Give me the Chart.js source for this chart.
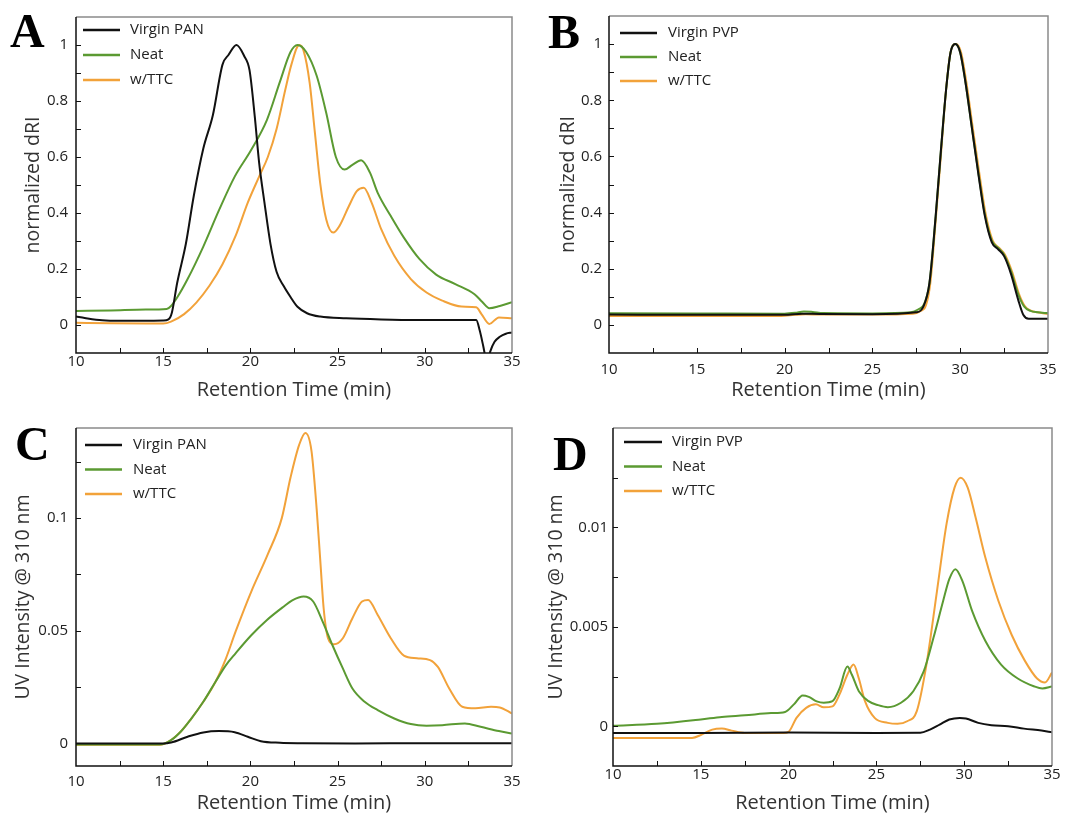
<!DOCTYPE html>
<html>
<head>
<meta charset="utf-8">
<title>GPC traces</title>
<script src="https://cdn.jsdelivr.net/npm/chart.js@4.4.1/dist/chart.umd.min.js"></script>
<style>
  body { margin: 0; background: #fff; width: 1071px; height: 815px; position: relative; overflow: hidden; }
  .panel { position: absolute; }
</style>
</head>
<body>
<div class="panel" style="left:0;top:0"><canvas id="chartA" width="535" height="405"></canvas></div>
<div class="panel" style="left:535px;top:0"><canvas id="chartB" width="536" height="405"></canvas></div>
<div class="panel" style="left:0;top:405px"><canvas id="chartC" width="535" height="410"></canvas></div>
<div class="panel" style="left:535px;top:405px"><canvas id="chartD" width="536" height="410"></canvas></div>
<script>
// names + colours
const panNames = ['Virgin PAN', 'Neat', 'w/TTC'];
const pvpNames = ['Virgin PVP', 'Neat', 'w/TTC'];
const colours = ['#111111', '#5b9a32', '#f2a23a'];

// tick labels
const xTicks = [10, 15, 20, 25, 30, 35];
const dRITicks = [0, 0.2, 0.4, 0.6, 0.8, 1];
const uvTicksC = [0, 0.05, 0.1];
const uvTicksD = [0, 0.005, 0.01];

// A - dRI, PAN
const aVirginT = [10, 10.5, 11.5, 12.5, 14, 15, 15.3, 15.5, 15.8, 16.3, 16.75, 17.3, 17.85, 18.4, 18.75, 19.2, 19.65, 19.95, 20.25, 20.5, 20.8, 21.15, 21.5, 21.9, 22.3, 22.7, 23.25, 24, 25.5, 27.5, 29.5, 31, 32.95, 33.15, 33.35, 33.5, 33.6, 33.75, 34, 34.3, 34.65, 35];
const aVirginY = [0.03, 0.025, 0.017, 0.015, 0.015, 0.016, 0.02, 0.045, 0.15, 0.29, 0.46, 0.63, 0.75, 0.93, 0.965, 1.0, 0.96, 0.91, 0.745, 0.58, 0.44, 0.29, 0.19, 0.14, 0.1, 0.065, 0.042, 0.03, 0.024, 0.02, 0.018, 0.018, 0.018, -0.02, -0.075, -0.12, -0.13, -0.095, -0.06, -0.042, -0.031, -0.027];
const aNeatT = [10, 12, 14, 15.2, 15.45, 15.8, 16.4, 17.3, 18.2, 19.1, 20.05, 20.95, 21.7, 22.3, 22.7, 23.2, 23.8, 24.35, 24.9, 25.4, 25.85, 26.35, 26.85, 27.3, 28.05, 28.8, 29.7, 30.65, 31.75, 32.85, 33.3, 33.7, 34.3, 35];
const aNeatY = [0.05, 0.052, 0.055, 0.057, 0.068, 0.098, 0.164, 0.28, 0.41, 0.53, 0.626, 0.733, 0.87, 0.975, 1.0, 0.975, 0.89, 0.757, 0.6, 0.555, 0.572, 0.588, 0.545, 0.472, 0.389, 0.312, 0.235, 0.18, 0.146, 0.11, 0.082, 0.06, 0.068, 0.081];
const aTtcT = [10, 12, 14, 15, 15.45, 16.2, 16.9, 17.65, 18.4, 19.15, 19.85, 20.5, 21.0, 21.5, 22.0, 22.35, 22.8, 23.05, 23.4, 23.7, 24.0, 24.35, 24.75, 25.1, 25.65, 26.1, 26.5, 26.95, 27.5, 28.25, 29.2, 30.1, 31, 32.1, 32.95, 33.25, 33.7, 34.25, 35];
const aTtcY = [0.008, 0.006, 0.005, 0.005, 0.012, 0.039, 0.08, 0.14, 0.217, 0.318, 0.437, 0.53, 0.6, 0.7, 0.84, 0.93, 1.0, 0.98, 0.864, 0.686, 0.508, 0.377, 0.33, 0.353, 0.425, 0.478, 0.49, 0.437, 0.342, 0.247, 0.164, 0.116, 0.087, 0.066, 0.063, 0.039, 0.004, 0.027, 0.024];

// B - dRI, PVP
const bVirginT = [10, 15, 20, 21, 22, 25, 27.5, 27.9, 28.25, 28.6, 28.9, 29.2, 29.45, 29.72, 30.0, 30.3, 30.65, 31.05, 31.4, 31.8, 32.15, 32.5, 32.9, 33.3, 33.6, 33.9, 35];
const bVirginY = [0.037, 0.036, 0.036, 0.04, 0.039, 0.038, 0.045, 0.065, 0.15, 0.385, 0.62, 0.84, 0.97, 1.0, 0.97, 0.864, 0.709, 0.531, 0.389, 0.294, 0.27, 0.245, 0.18, 0.09, 0.035, 0.022, 0.022];
const bNeatT = [10, 15, 20, 20.6, 21.1, 21.6, 22.2, 25, 27.2, 27.6, 27.95, 28.25, 28.6, 28.9, 29.2, 29.45, 29.72, 30.0, 30.3, 30.65, 31.05, 31.4, 31.8, 32.15, 32.5, 32.9, 33.3, 33.65, 34.0, 34.4, 35];
const bNeatY = [0.042, 0.041, 0.04, 0.043, 0.048, 0.046, 0.042, 0.041, 0.045, 0.055, 0.075, 0.15, 0.385, 0.62, 0.84, 0.97, 1.0, 0.97, 0.864, 0.709, 0.535, 0.395, 0.3, 0.275, 0.25, 0.19, 0.11, 0.065, 0.05, 0.045, 0.042];
const bTtcT = [10, 15, 19.8, 20.6, 21.2, 22, 25, 27.3, 27.75, 28.05, 28.3, 28.62, 28.92, 29.2, 29.45, 29.75, 30.05, 30.35, 30.7, 31.1, 31.45, 31.85, 32.2, 32.55, 32.95, 33.35, 33.7, 34.05, 34.4, 35];
const bTtcY = [0.032, 0.032, 0.032, 0.036, 0.038, 0.037, 0.037, 0.04, 0.05, 0.07, 0.15, 0.385, 0.62, 0.84, 0.97, 1.0, 0.97, 0.864, 0.709, 0.535, 0.395, 0.3, 0.275, 0.25, 0.19, 0.11, 0.065, 0.05, 0.045, 0.038];

// C - UV 310 nm, PAN
const cVirginT = [10, 15, 15.45, 16.4, 17.3, 18.2, 19.1, 19.85, 20.6, 21.7, 23, 26, 30, 35];
const cVirginY = [0, 0, 0.0004, 0.003, 0.0049, 0.0055, 0.005, 0.003, 0.001, 0.0003, 0.0001, 0, 0.0001, 0.0001];
const cNeatT = [10, 14.8, 15.45, 16.0, 16.55, 17.3, 18.0, 18.6, 19.15, 20.05, 20.95, 21.9, 22.4, 23.05, 23.6, 24.15, 24.7, 25.3, 25.85, 26.55, 27.3, 28.25, 29.2, 30.1, 31.0, 32.3, 33.2, 34.25, 35];
const cNeatY = [-0.0005, -0.0005, 0.0015, 0.0052, 0.0104, 0.0185, 0.0274, 0.0348, 0.04, 0.048, 0.0548, 0.0607, 0.0635, 0.0652, 0.063, 0.054, 0.0437, 0.0333, 0.0244, 0.0185, 0.0148, 0.0111, 0.0086, 0.0079, 0.0081, 0.0089, 0.0074, 0.0055, 0.0044];
const cTtcT = [10, 14.8, 15.45, 16.0, 16.55, 17.3, 18.0, 18.6, 19.15, 20.05, 21.0, 21.8, 22.3, 22.8, 23.15, 23.5, 23.8, 24.0, 24.2, 24.45, 24.8, 25.3, 25.85, 26.4, 26.75, 27.3, 28.05, 28.8, 29.55, 30.3, 30.75, 31.4, 32.15, 32.9, 33.8, 34.3, 35];
const cTtcY = [-0.0006, -0.0006, 0.0015, 0.0052, 0.0104, 0.0185, 0.0274, 0.0378, 0.0496, 0.0674, 0.084, 0.1, 0.118, 0.1326, 0.1378, 0.13, 0.104, 0.082, 0.06, 0.0467, 0.044, 0.0467, 0.0556, 0.063, 0.0637, 0.057, 0.0467, 0.039, 0.0378, 0.037, 0.034, 0.0244, 0.0163, 0.0156, 0.0163, 0.016, 0.0133];

// D - UV 310 nm, PVP
const dVirginT = [10, 15, 20, 25, 27.5, 28.05, 28.6, 29.15, 29.75, 30.1, 30.8, 31.55, 32.5, 33.4, 34.4, 35];
const dVirginY = [-0.00034, -0.00034, -0.00032, -0.00034, -0.00033, -0.00017, 0.00008, 0.00034, 0.00042, 0.00039, 0.00017, 0.00005, 0, -0.00012, -0.00022, -0.0003];
const dNeatT = [10, 12.5, 15, 16.2, 17.5, 19, 19.8, 20.3, 20.8, 21.15, 21.6, 22.0, 22.5, 22.9, 23.35, 23.6, 24.0, 24.55, 25.1, 25.65, 26.4, 27.1, 27.7, 28.25, 28.8, 29.15, 29.5, 29.9, 30.45, 31.2, 32.1, 33.05, 34.0, 34.45, 35];
const dNeatY = [0.00003, 0.00012, 0.00034, 0.00047, 0.00055, 0.00066, 0.00072, 0.0011, 0.00155, 0.00148, 0.00125, 0.00118, 0.00126, 0.0019, 0.003, 0.0026, 0.00176, 0.00126, 0.00106, 0.00096, 0.00118, 0.00176, 0.00277, 0.00445, 0.0063, 0.0074, 0.0079, 0.0073, 0.0058, 0.0043, 0.0031, 0.0024, 0.002, 0.0019, 0.002];
const dTtcT = [10, 14.5, 15.05, 15.65, 16.2, 16.75, 17.5, 19.7, 20.0, 20.45, 21.0, 21.55, 22.0, 22.5, 22.9, 23.35, 23.7, 24.0, 24.35, 24.9, 25.65, 26.2, 26.75, 27.3, 27.85, 28.45, 29.0, 29.45, 29.8, 30.2, 30.65, 31.2, 31.95, 32.7, 33.45, 34.15, 34.6, 35];
const dTtcY = [-0.00059, -0.00059, -0.00042, -0.00017, -0.00012, -0.00022, -0.00034, -0.00034, -0.00028, 0.00042, 0.00092, 0.0011, 0.00095, 0.001, 0.0016, 0.0026, 0.0031, 0.0024, 0.00126, 0.00042, 0.00017, 0.00012, 0.00025, 0.00076, 0.0031, 0.0068, 0.0102, 0.012, 0.0125, 0.012, 0.0105, 0.0085, 0.0063, 0.0046, 0.0033, 0.0024, 0.0022, 0.0027];

const pts = (t, v) => t.map((x, i) => ({ x: x, y: v[i] }));

// frame, inward ticks, legend and panel letter
const framePlugin = {
    id: 'frame',
    afterDatasetsDraw(chart, args, o) {
        const { ctx, chartArea: { left, right, top, bottom }, scales: { x, y } } = chart;
        ctx.save();
        ctx.lineWidth = 1.5;
        ctx.strokeStyle = '#8a8a8a';
        ctx.beginPath();
        ctx.moveTo(left, top); ctx.lineTo(right, top); ctx.lineTo(right, bottom);
        ctx.stroke();
        ctx.strokeStyle = '#111';
        ctx.beginPath();
        ctx.moveTo(left, top); ctx.lineTo(left, bottom); ctx.lineTo(right, bottom);
        ctx.stroke();

        ctx.lineWidth = 1;
        ctx.beginPath();
        for (let k = 1; x.min + k * o.xStep < x.max - 1e-9; k++) {
            const px = Math.round(x.getPixelForValue(x.min + k * o.xStep)) + 0.5;
            ctx.moveTo(px, bottom); ctx.lineTo(px, bottom - 5);
        }
        for (let k = Math.ceil(y.min / o.yStep - 1e-6); k * o.yStep < y.max - o.yStep * 1e-3; k++) {
            const v = k * o.yStep;
            if (v <= y.min + o.yStep * 1e-3) continue;
            const py = Math.round(y.getPixelForValue(v)) + 0.5;
            ctx.moveTo(left, py); ctx.lineTo(left + 5, py);
        }
        ctx.stroke();

        // legend
        ctx.font = '15px "Open Sans"';
        ctx.textBaseline = 'middle';
        ctx.textAlign = 'left';
        chart.data.datasets.forEach((ds, i) => {
            const yy = top + o.leg.y0 + i * o.leg.dy;
            ctx.strokeStyle = ds.borderColor;
            ctx.lineWidth = 2.5;
            ctx.beginPath();
            ctx.moveTo(left + o.leg.x0, yy); ctx.lineTo(left + o.leg.x1, yy);
            ctx.stroke();
            ctx.fillStyle = '#222';
            ctx.fillText(ds.label, left + o.leg.tx, yy);
        });

        ctx.fillStyle = '#000';
        ctx.font = 'bold 48px "Liberation Serif"';
        ctx.textBaseline = 'alphabetic';
        ctx.fillText(o.letter, o.lx, o.ly);
        ctx.restore();
    }
};

function makePanel(p) {
    return new Chart(document.getElementById(p.id), {
        type: 'line',
        data: {
            datasets: p.series.map((s, i) => ({
                label: p.names[i],
                data: pts(s[0], s[1]),
                borderColor: colours[i],
                backgroundColor: colours[i],
                borderWidth: 2,
                pointRadius: 0,
                cubicInterpolationMode: 'monotone',
                clip: 0
            }))
        },
        options: {
            responsive: false,
            animation: false,
            devicePixelRatio: 1,
            layout: { padding: p.pad },
            plugins: {
                legend: { display: false },
                tooltip: { enabled: false },
                frame: { letter: p.letter, lx: p.lx, ly: p.ly, xStep: 2.5, yStep: p.yStep, leg: p.leg }
            },
            scales: {
                x: {
                    type: 'linear', min: 10, max: 35,
                    grid: { display: false, drawTicks: false },
                    border: { display: false },
                    afterBuildTicks: s => { s.ticks = xTicks.map(v => ({ value: v })); },
                    afterFit: s => { s.height = p.xh; },
                    ticks: { padding: p.xtp, color: '#222', maxRotation: 0, autoSkip: false,
                        font: { family: 'Open Sans', size: 15 }, callback: v => String(v) },
                    title: { display: true, text: 'Retention Time (min)', color: '#333',
                        font: { family: 'Open Sans', size: 20 }, padding: { top: 0, bottom: p.xtb } }
                },
                y: {
                    min: p.yMin, max: p.yMax,
                    grid: { display: false, drawTicks: false },
                    border: { display: false },
                    afterBuildTicks: s => { s.ticks = p.yTicks.map(v => ({ value: v })); },
                    afterFit: s => { s.width = p.yw; },
                    ticks: { padding: p.ytp, color: '#222', autoSkip: false,
                        font: { family: 'Open Sans', size: 15 }, callback: v => String(v) },
                    title: { display: true, text: p.yTitle, color: '#333',
                        font: { family: 'Open Sans', size: 19.5 }, padding: { top: p.ytt, bottom: 0 } }
                }
            }
        },
        plugins: [framePlugin]
    });
}

makePanel({
    id: 'chartA', letter: 'A', lx: 10, ly: 47, names: panNames,
    series: [[aVirginT, aVirginY], [aNeatT, aNeatY], [aTtcT, aTtcY]],
    yMin: -0.1, yMax: 1.1, yTicks: dRITicks, yStep: 0.1, yTitle: 'normalized dRI',
    pad: { left: 0, top: 15, right: 23, bottom: 0 }, yw: 76, xh: 52, ytp: 8, xtp: 0, ytt: 22, xtb: 3,
    leg: { x0: 7, x1: 44, tx: 54, y0: 13, dy: 25 }
});
makePanel({
    id: 'chartB', letter: 'B', lx: 13, ly: 48, names: pvpNames,
    series: [[bVirginT, bVirginY], [bNeatT, bNeatY], [bTtcT, bTtcY]],
    yMin: -0.1, yMax: 1.1, yTicks: dRITicks, yStep: 0.1, yTitle: 'normalized dRI',
    pad: { left: 0, top: 15, right: 23, bottom: 0 }, yw: 74, xh: 52, ytp: 7, xtp: 8, ytt: 22, xtb: 3,
    leg: { x0: 11, x1: 48, tx: 59, y0: 17, dy: 24 }
});
makePanel({
    id: 'chartC', letter: 'C', lx: 15, ly: 55, names: panNames,
    series: [[cVirginT, cVirginY], [cNeatT, cNeatY], [cTtcT, cTtcY]],
    yMin: -0.01, yMax: 0.14, yTicks: uvTicksC, yStep: 0.025, yTitle: 'UV Intensity @ 310 nm',
    pad: { left: 0, top: 23, right: 23, bottom: 0 }, yw: 76, xh: 49, ytp: 8, xtp: 7, ytt: 12, xtb: 0,
    leg: { x0: 9, x1: 46, tx: 57, y0: 17, dy: 24.5 }
});
makePanel({
    id: 'chartD', letter: 'D', lx: 18, ly: 65, names: pvpNames,
    series: [[dVirginT, dVirginY], [dNeatT, dNeatY], [dTtcT, dTtcY]],
    yMin: -0.002, yMax: 0.015, yTicks: uvTicksD, yStep: 0.0025, yTitle: 'UV Intensity @ 310 nm',
    pad: { left: 0, top: 23, right: 19, bottom: 0 }, yw: 78, xh: 49, ytp: 5, xtp: 0, ytt: 10, xtb: 0,
    leg: { x0: 11, x1: 49, tx: 59, y0: 14, dy: 24.5 }
});
</script>
</body>
</html>
